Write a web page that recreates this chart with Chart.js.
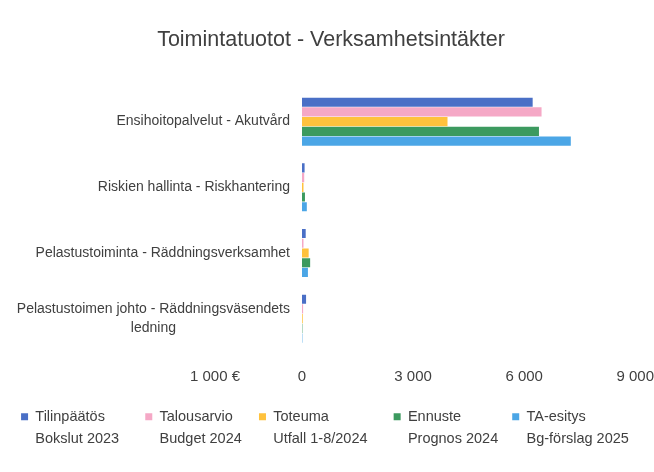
<!DOCTYPE html>
<html>
<head>
<meta charset="utf-8">
<script src="https://cdn.jsdelivr.net/npm/chart.js@4/dist/chart.umd.min.js"></script>
<style>
  html, body { margin: 0; padding: 0; background: #ffffff; }
  #wrap { width: 654px; height: 472px; }
</style>
</head>
<body>
<div id="wrap"><canvas id="c" width="654" height="472"></canvas></div>
<script>
const chartTitle = "Toimintatuotot - Verksamhetsintäkter";
const unitLabel = "1 000 €";
const categories = [
  "Ensihoitopalvelut - Akutvård",
  "Riskien hallinta - Riskhantering",
  "Pelastustoiminta - Räddningsverksamhet",
  ["Pelastustoimen johto - Räddningsväsendets", "ledning"]
];
const seriesNames = [
  ["Tilinpäätös", "Bokslut 2023"],
  ["Talousarvio", "Budget 2024"],
  ["Toteuma", "Utfall 1-8/2024"],
  ["Ennuste", "Prognos 2024"],
  ["TA-esitys", "Bg-förslag 2025"]
];
const tilinpaatos2023 = [6230, 70, 100, 110];
const talousarvio2024 = [6470, 60, 40, 30];
const toteuma2024 = [3930, 40, 180, 20];
const ennuste2024 = [6400, 80, 220, 10];
const taEsitys2025 = [7260, 130, 160, 10];
const xTicks = [0, 3000, 6000, 9000];

const seriesValues = [tilinpaatos2023, talousarvio2024, toteuma2024, ennuste2024, taEsitys2025];
const seriesColors = ["#4a6fc6", "#f5a8c6", "#ffc23d", "#3c9a5f", "#4ba6e6"];

// layout / style constants
const FONT = "'Liberation Sans', Arial, sans-serif";
const TEXT = "#404040";
const TICK_GAP = 16;
const TICK_SIZE = 15;
const PAD_LEFT = 8;
const LEGEND_ROOM = [4, 4, 4, 1, 3]; // extra spaces after each legend entry

function fmt(v) {
  return String(v).replace(/\B(?=(\d{3})+(?!\d))/g, " ");
}

// multi-line legend text; its measured width is that of its longest line plus some room
function lines(arr, room) {
  const a = arr.slice();
  const longest = arr.reduce((p, c) => (c.length > p.length ? c : p), "");
  a.toString = () => longest + " ".repeat(room);
  return a;
}

const helperPlugin = {
  id: 'helper',
  beforeDraw(chart) {
    // let the two-line legend entries show their second line
    if (chart.legend) chart.legend.bottom = chart.height;
    // centre the two-line category label like the reference
    const ys = chart.scales.y;
    const ctx = chart.ctx;
    const items = ys.getLabelItems();
    items.forEach(it => {
      if (Array.isArray(it.label) && !it._centered) {
        ctx.save();
        ctx.font = it.font.string;
        const w = Math.max(...it.label.map(l => ctx.measureText(l).width));
        ctx.restore();
        it.options.textAlign = 'center';
        it.options.translation = [it.options.translation[0] - w / 2, it.options.translation[1]];
        it._centered = true;
      }
    });
  },
  afterDraw(chart) {
    const xs = chart.scales.x;
    const ctx = chart.ctx;
    ctx.save();
    ctx.font = TICK_SIZE + "px " + FONT;
    ctx.fillStyle = TEXT;
    ctx.textAlign = 'right';
    ctx.textBaseline = 'middle';
    const y = xs.top + TICK_GAP + TICK_SIZE * 1.2 / 2;
    ctx.fillText(unitLabel, chart.chartArea.left - 62, y);
    ctx.restore();
  }
};

new Chart(document.getElementById('c'), {
  type: 'bar',
  data: {
    labels: categories,
    datasets: seriesValues.map((vals, i) => ({
      label: seriesNames[i].join(" "),
      data: vals,
      backgroundColor: seriesColors[i],
      borderWidth: 0,
      categoryPercentage: 0.74,
      barPercentage: 0.94
    }))
  },
  options: {
    indexAxis: 'y',
    responsive: false,
    animation: false,
    devicePixelRatio: 1,
    layout: { padding: { left: PAD_LEFT, right: 0, top: 12, bottom: 38 } },
    scales: {
      x: {
        min: 0,
        max: 9000,
        afterBuildTicks(scale) { scale.ticks = xTicks.map(v => ({ value: v })); },
        afterFit(scale) { scale.height += 14; },
        grid: { display: false, drawTicks: true, tickLength: TICK_GAP },
        border: { display: false },
        ticks: {
          padding: 0,
          color: TEXT,
          font: { family: FONT, size: TICK_SIZE },
          maxRotation: 0,
          callback: (v) => fmt(v)
        }
      },
      y: {
        afterFit(scale) { scale.width = 302 - PAD_LEFT; },
        grid: { display: false, drawTicks: false },
        border: { display: false },
        ticks: {
          padding: 12,
          color: TEXT,
          font: { family: FONT, size: 14, lineHeight: 1.3 }
        }
      }
    },
    plugins: {
      title: {
        display: true,
        text: chartTitle,
        color: TEXT,
        font: { family: FONT, size: 21.5, weight: 'normal' },
        padding: { top: 15, bottom: 36 }
      },
      legend: {
        position: 'bottom',
        labels: {
          boxWidth: 7,
          boxHeight: 7,
          padding: 10,
          color: TEXT,
          font: { family: FONT, size: 14.5, lineHeight: 1.5 },
          generateLabels(chart) {
            return chart.data.datasets.map((ds, i) => ({
              text: lines(seriesNames[i], LEGEND_ROOM[i]),
              fillStyle: seriesColors[i],
              strokeStyle: seriesColors[i],
              lineWidth: 0,
              hidden: false,
              fontColor: TEXT,
              datasetIndex: i
            }));
          }
        }
      },
      tooltip: { enabled: false }
    }
  },
  plugins: [helperPlugin]
});
</script>
</body>
</html>
